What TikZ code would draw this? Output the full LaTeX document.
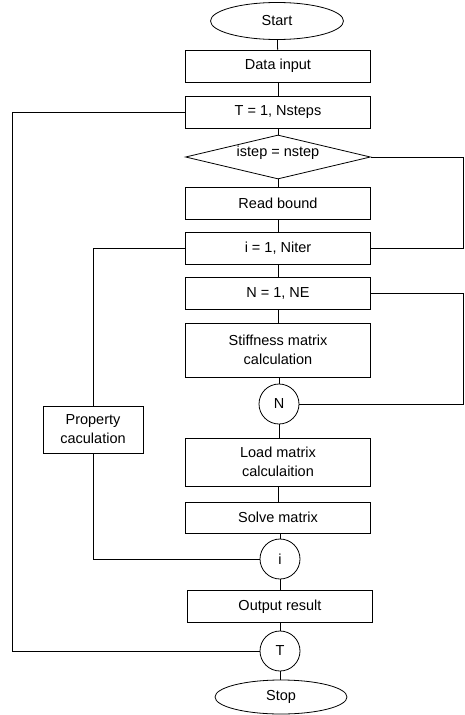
\documentclass[tikz,border=0pt]{standalone}
\usepackage{fontspec}
\setmainfont{Liberation Sans}
\usetikzlibrary{shapes.geometric}
\begin{document}
\begin{tikzpicture}[x=1pt,y=-1pt,
  every node/.style={font=\fontsize{14.5}{19}\selectfont, inner sep=0pt, line width=0.8pt},
  proc/.style={draw, rectangle, minimum width=185pt, align=center},
  term/.style={draw, ellipse, minimum width=133pt, minimum height=37pt},
  conn/.style={draw, circle, minimum size=40pt},
  dec/.style={draw, diamond, minimum width=185pt, minimum height=44pt, aspect=4.2},
  link/.style={line width=0.8pt}]
\useasboundingbox (0,0) rectangle (465,715);
\node[term] (start) at (277,21) {Start};
\node[proc, minimum height=32pt] (data) at (278,66) {Data input};
\node[proc, minimum height=32pt] (tbox) at (278,112) {T = 1, Nsteps};
\node[draw, line width=0.8pt, shape=diamond, minimum width=185pt, minimum height=44pt, inner sep=0pt] (dia) at (278,157) {};
\node at (278,153) (diatext) {istep = nstep};
\node[proc, minimum height=32pt] (read) at (278,203) {Read bound};
\node[proc, minimum height=32pt] (ibox) at (278,248) {i = 1, Niter};
\node[proc, minimum height=32pt] (nbox) at (278,293) {N = 1, NE};
\node[proc, minimum height=54pt] (stiff) at (278,350) {Stiffness matrix\\calculation};
\node[conn] (ncirc) at (279,404) {N};
\node[proc, minimum height=48pt] (load) at (278,462) {Load matrix\\calculaition};
\node[proc, minimum height=31pt] (solve) at (278,517.5) {Solve matrix};
\node[conn] (icirc) at (280,559) {i};
\node[proc, minimum height=32pt] (out) at (280,606.5) {Output result};
\node[conn] (tcirc) at (280,651) {T};
\node[term, minimum width=132pt, minimum height=34pt] (stop) at (281,697) {Stop};
\node[draw, rectangle, minimum width=100pt, minimum height=47pt, align=center] (prop) at (93,429.5) {Property\\caculation};
\coordinate (tl1) at (12,112);
\coordinate (tl2) at (12,651);
\coordinate (dr1) at (463,157);
\coordinate (dr2) at (463,248);
\coordinate (il1) at (93,248);
\coordinate (il2) at (93,559);
\coordinate (nr1) at (463,293);
\coordinate (nr2) at (463,404);
\draw[link] (start) -- (data);
\draw[link] (data) -- (tbox);
\draw[link] (tbox) -- (dia);
\draw[link] (dia) -- (read);
\draw[link] (read) -- (ibox);
\draw[link] (ibox) -- (nbox);
\draw[link] (nbox) -- (stiff);
\draw[link] (stiff.south -| ncirc) -- (ncirc);
\draw[link] (ncirc) -- (load.north -| ncirc);
\draw[link] (load) -- (solve);
\draw[link] (solve.south -| icirc) -- (icirc);
\draw[link] (icirc) -- (out);
\draw[link] (out) -- (tcirc);
\draw[link] (tcirc) -- (stop.north -| tcirc);
\draw[link] (tbox.west) -- (tl1) -- (tl2) -- (tcirc.west);
\draw[link] (dia.east) -- (dr1) -- (dr2) -- (ibox.east);
\draw[link] (ibox.west) -- (il1) -- (prop.north);
\draw[link] (prop.south) -- (il2) -- (icirc.west);
\draw[link] (nbox.east) -- (nr1) -- (nr2) -- (ncirc.east);
\end{tikzpicture}
\end{document}
